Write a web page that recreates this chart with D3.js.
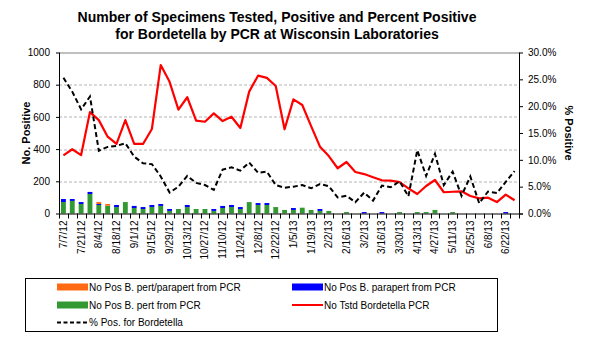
<!DOCTYPE html>
<html>
<head>
<meta charset="utf-8">
<script src="https://cdn.jsdelivr.net/npm/d3@7"></script>
<style>
  body { margin: 0; background: #fff; }
  svg text { font-family: Arial, "Liberation Sans", sans-serif; fill: #000; }
</style>
</head>
<body>
<svg id="chart" width="592" height="345"></svg>
<script>
// weekly categories (week ending)
const weeks = ["7/7/12","7/14/12","7/21/12","7/28/12","8/4/12","8/11/12","8/18/12","8/25/12","9/1/12","9/8/12",
  "9/15/12","9/22/12","9/29/12","10/6/12","10/13/12","10/20/12","10/27/12","11/3/12","11/10/12","11/17/12",
  "11/24/12","12/1/12","12/8/12","12/15/12","12/22/12","12/29/12","1/5/13","1/12/13","1/19/13","1/26/13",
  "2/2/13","2/9/13","2/16/13","2/23/13","3/2/13","3/9/13","3/16/13","3/23/13","3/30/13","4/6/13",
  "4/13/13","4/20/13","4/27/13","5/4/13","5/11/13","5/18/13","5/25/13","6/1/13","6/8/13","6/15/13",
  "6/22/13","6/29/13"];

// No Tstd Bordetella PCR
const tested = [361,399,363,630,580,477,432,580,432,432,525,922,818,645,722,577,570,622,574,601,
  531,757,856,842,792,523,709,674,543,415,357,281,320,258,245,225,206,204,195,156,
  121,171,208,132,135,138,109,94,98,71,117,82];

// % Pos. for Bordetella
const pctPositive = [25.3,22.7,19.4,21.8,11.7,12.4,12.6,13.1,10.6,9.35,9.2,6.9,3.9,5.0,7.0,5.7,5.3,4.4,8.2,8.6,
  8.0,9.5,7.6,7.8,5.3,4.8,5.0,5.3,4.7,5.5,5.1,3.0,3.3,2.1,3.9,2.4,5.2,4.9,6.0,3.2,
  11.8,7.0,11.1,5.3,7.8,3.3,6.9,1.9,4.1,3.8,5.9,7.9];

// positives by organism
const posPert = [71,78,59,121,53,48,40,71,34,28,40,47,16,28,40,28,28,16,34,40,
  28,71,53,53,40,22,22,36,22,16,16,0,9,0,0,0,0,0,9,0,
  9,9,22,0,9,0,0,0,0,0,0,0];
const posParapert = [19,12,12,13,6,0,13,0,13,12,13,12,12,0,13,0,0,12,13,13,
  12,0,12,12,0,0,12,0,0,12,0,0,0,0,9,0,9,0,0,0,
  0,0,0,0,0,0,0,0,0,0,9,0];
const posBoth = [0,0,0,0,12,11,0,0,0,0,0,0,0,0,0,0,0,0,0,0,
  0,0,0,0,0,0,0,0,0,0,0,0,0,0,0,0,0,0,0,0,
  0,0,0,0,0,0,0,0,0,0,0,0];

const leftTicks = [0, 200, 400, 600, 800, 1000];
const rightTicks = [0, 5, 10, 15, 20, 25, 30];

class BordetellaChart {

  constructor(_config) {
    this.config = {
      parentElement: _config.parentElement,
      width: 592,
      height: 345,
      margin: { top: 52.5, right: 73, bottom: 131.5, left: 59 }
    };
    this.initVis();
  }

  initVis() {
    let vis = this;
    let m = vis.config.margin;
    vis.innerW = vis.config.width - m.left - m.right;
    vis.innerH = vis.config.height - m.top - m.bottom;

    vis.svg = d3.select(vis.config.parentElement);
    vis.chart = vis.svg.append('g').attr('transform', `translate(${m.left},${m.top})`);

    vis.x = d3.scaleBand().domain(weeks).range([0, vis.innerW]).paddingInner(0.45).paddingOuter(0.225);
    vis.xLine = d => vis.x(d) + vis.x.bandwidth() / 2;
    vis.yLeft = d3.scaleLinear().domain([0, 1000]).range([vis.innerH, 0]);
    vis.yRight = d3.scaleLinear().domain([0, 30]).range([vis.innerH, 0]);

    vis.colors = { pert: '#339933', parapert: '#0000ff', both: '#ff6a13', tested: '#ff0000' };

    vis.updateVis();
  }

  updateVis() {
    let vis = this;

    // title
    vis.svg.append('text')
      .attr('x', 277).attr('y', 22)
      .attr('text-anchor', 'middle')
      .style('font-size', '14px').style('font-weight', 'bold')
      .text('Number of Specimens Tested, Positive and Percent Positive');
    vis.svg.append('text')
      .attr('x', 277).attr('y', 39)
      .attr('text-anchor', 'middle')
      .style('font-size', '14px').style('font-weight', 'bold')
      .text('for Bordetella by PCR at Wisconsin Laboratories');

    // gridlines
    vis.chart.append('g')
      .selectAll('line')
      .data(leftTicks.filter(d => d > 0 && d < 1000))
      .join('line')
        .attr('x1', 0).attr('x2', vis.innerW)
        .attr('y1', d => Math.round(vis.yLeft(d)) + 0.5)
        .attr('y2', d => Math.round(vis.yLeft(d)) + 0.5)
        .attr('stroke', '#b4b4b4')
        .attr('stroke-dasharray', '3,2');
    vis.chart.append('line')
      .attr('x1', 0).attr('x2', vis.innerW)
      .attr('y1', 0.5).attr('y2', 0.5)
      .attr('stroke', '#808080');

    // stacked positives
    let rows = weeks.map((w, i) => ({ week: w, pert: posPert[i], parapert: posParapert[i], both: posBoth[i] }));
    let stack = d3.stack().keys(['pert', 'parapert', 'both'])(rows);

    vis.chart.append('g')
      .selectAll('g')
      .data(stack)
      .join('g')
        .attr('fill', d => vis.colors[d.key])
      .selectAll('rect')
      .data(d => d.filter(s => s[1] > s[0]))
      .join('rect')
        .attr('x', d => vis.x(d.data.week))
        .attr('width', vis.x.bandwidth())
        .attr('y', d => vis.yLeft(d[1]))
        .attr('height', d => vis.yLeft(d[0]) - vis.yLeft(d[1]));

    // tested line
    let testedLine = d3.line()
      .x((d, i) => vis.xLine(weeks[i]))
      .y(d => vis.yLeft(d));
    vis.chart.append('path')
      .datum(tested)
      .attr('fill', 'none')
      .attr('stroke', vis.colors.tested)
      .attr('stroke-width', 2.2)
      .attr('stroke-linejoin', 'round')
      .attr('d', testedLine);

    // % positive line
    let pctLine = d3.line()
      .x((d, i) => vis.xLine(weeks[i]))
      .y(d => vis.yRight(d));
    vis.chart.append('path')
      .datum(pctPositive)
      .attr('fill', 'none')
      .attr('stroke', '#000')
      .attr('stroke-width', 2)
      .attr('stroke-dasharray', '5,3')
      .attr('d', pctLine);

    // axes
    let leftAxis = d3.axisLeft(vis.yLeft).tickValues(leftTicks).tickSize(3).tickPadding(6)
      .tickFormat(d3.format('d'));
    let gl = vis.chart.append('g').call(leftAxis);
    gl.select('.domain').attr('stroke', '#000').attr('d', `M0.5,0V${vis.innerH}`);
    gl.selectAll('text').style('font-size', '10px').attr('font-family', null).attr('fill', '#000');

    let rightAxis = d3.axisRight(vis.yRight).tickValues(rightTicks).tickSize(4).tickPadding(5)
      .tickFormat(d => d3.format('.1f')(d) + '%');
    let gr = vis.chart.append('g').attr('transform', `translate(${vis.innerW},0)`).call(rightAxis);
    gr.select('.domain').attr('stroke', '#000').attr('d', `M0.5,0V${vis.innerH}`);
    gr.selectAll('text').style('font-size', '10px').attr('font-family', null).attr('fill', '#000');

    // bottom axis: ticks between every week, labels on every other week
    let gx = vis.chart.append('g').attr('transform', `translate(0,${vis.innerH})`);
    gx.append('line')
      .attr('x1', 0).attr('x2', vis.innerW + 4)
      .attr('y1', 0.5).attr('y2', 0.5)
      .attr('stroke', '#000');
    let step = vis.x.step();
    gx.selectAll('.tick')
      .data(d3.range(weeks.length + 1))
      .join('line')
        .attr('class', 'tick')
        .attr('x1', i => Math.round(vis.x(weeks[0]) - vis.x.paddingOuter() * step + i * step) + 0.5)
        .attr('x2', i => Math.round(vis.x(weeks[0]) - vis.x.paddingOuter() * step + i * step) + 0.5)
        .attr('y1', 0).attr('y2', 5)
        .attr('stroke', '#000');
    gx.selectAll('.lbl')
      .data(weeks.filter((w, i) => i % 2 === 0))
      .join('text')
        .attr('class', 'lbl')
        .attr('transform', d => `translate(${vis.xLine(d) + 3.5},7) rotate(-90)`)
        .attr('text-anchor', 'end')
        .style('font-size', '10px')
        .text(d => d);

    // axis titles
    vis.svg.append('text')
      .attr('transform', `translate(30,${52.5 + vis.innerH / 2}) rotate(-90)`)
      .attr('text-anchor', 'middle')
      .style('font-size', '11px').style('font-weight', 'bold')
      .text('No. Positive');
    vis.svg.append('text')
      .attr('transform', `translate(565,${52.5 + vis.innerH / 2}) rotate(90)`)
      .attr('text-anchor', 'middle')
      .style('font-size', '11px').style('font-weight', 'bold')
      .text('% Positive');

    vis.drawLegend();
  }

  drawLegend() {
    let vis = this;
    let lg = vis.svg.append('g');
    lg.append('rect')
      .attr('x', 25.5).attr('y', 278.5)
      .attr('width', 472).attr('height', 53)
      .attr('fill', 'none').attr('stroke', '#000');

    let items = [
      { label: 'No Pos B. pert/parapert from PCR', type: 'bar', color: vis.colors.both, x: 57, y: 287 },
      { label: 'No Pos B. parapert from PCR', type: 'bar', color: vis.colors.parapert, x: 292, y: 287 },
      { label: 'No Pos B. pert from PCR', type: 'bar', color: vis.colors.pert, x: 57, y: 305 },
      { label: 'No Tstd Bordetella PCR', type: 'line', color: vis.colors.tested, x: 292, y: 305 },
      { label: '% Pos. for Bordetella', type: 'dash', color: '#000', x: 57, y: 322.5 }
    ];

    items.forEach(d => {
      if (d.type === 'bar') {
        lg.append('rect')
          .attr('x', d.x).attr('y', d.y - 3.5)
          .attr('width', 31).attr('height', 7)
          .attr('fill', d.color);
      } else {
        lg.append('line')
          .attr('x1', d.x).attr('x2', d.x + 31)
          .attr('y1', d.y).attr('y2', d.y)
          .attr('stroke', d.color)
          .attr('stroke-width', 2)
          .attr('stroke-dasharray', d.type === 'dash' ? '4,2.5' : null);
      }
      lg.append('text')
        .attr('x', d.x + 32).attr('y', d.y + 3.5)
        .style('font-size', '10px')
        .text(d.label);
    });
  }
}

new BordetellaChart({ parentElement: '#chart' });
</script>
</body>
</html>
